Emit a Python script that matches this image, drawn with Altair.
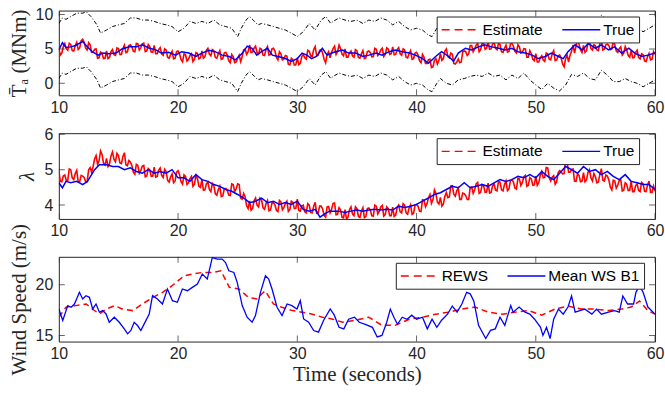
import altair as alt
import pandas as pd

# ---------------- data ----------------
x_ticks = [10, 20, 30, 40, 50, 60]

# sampling grids of the noisy estimates: full steps (10, 10.25, ...) and half steps (10.125, 10.375, ...)
grid_t = [10 + 0.25 * i for i in range(201)]
mid_t = [10.125 + 0.25 * i for i in range(200)]

# Panel 1: aerodynamic torque estimate (MNm), full steps
torque_est = [
    5.1, 4.4, 5.8, 4.8, 5.65, 4.7, 5.95, 5.15,
    6.4, 5.1, 5.9, 4.5, 4.95, 3.65, 4.55, 3.6,
    4.7, 3.75, 4.9, 4.05, 5.05, 4.2, 5.55, 4.55,
    5.6, 4.65, 5.8, 4.85, 5.75, 4.6, 5.65, 4.55,
    5.5, 4.3, 5.2, 4.1, 4.85, 3.65, 4.65, 3.65,
    4.7, 3.45, 4.3, 3.25, 4.05, 3.15, 4.45, 3.55,
    4.7, 3.85, 5.1, 4.0, 4.75, 3.65, 4.75, 3.6,
    4.5, 3.3, 4.2, 3.0, 3.65, 3.15, 4.85, 4.2,
    5.6, 4.55, 5.4, 4.25, 4.95, 4.05, 5.35, 4.2,
    5.1, 3.8, 4.6, 3.4, 4.05, 2.75, 3.65, 2.65,
    3.7, 2.9, 4.2, 3.5, 4.65, 3.9, 5.35, 4.1,
    4.9, 3.5, 4.2, 3.7, 5.05, 4.2, 5.55, 4.25,
    5.0, 3.8, 4.7, 3.8, 4.75, 3.65, 4.75, 3.7,
    4.7, 3.85, 5.1, 4.05, 4.85, 3.9, 5.15, 4.2,
    5.3, 4.2, 5.2, 4.1, 4.85, 3.7, 4.75, 3.6,
    4.5, 3.3, 4.2, 2.9, 3.45, 2.3, 3.35, 2.8,
    4.3, 3.6, 5.0, 3.7, 4.25, 2.8, 3.55, 3.1,
    4.7, 4.05, 5.5, 4.6, 5.55, 4.6, 5.85, 4.95,
    6.1, 5.0, 6.0, 4.9, 5.65, 4.5, 5.55, 4.65,
    5.8, 4.65, 5.6, 4.4, 5.05, 3.8, 4.75, 3.5,
    4.3, 3.1, 4.0, 3.2, 4.25, 3.4, 4.75, 3.4,
    4.1, 2.8, 3.6, 3.1, 4.65, 4.4, 6.35, 4.9,
    5.5, 4.75, 6.1, 4.85, 5.45, 4.75, 6.25, 4.95,
    5.7, 4.9, 6.2, 4.7, 5.05, 4.1, 5.35, 4.05,
    4.8, 3.75, 4.8, 3.55, 4.15, 3.15, 4.35, 3.5,
    4.2,
]
# half steps
torque_est_mid = [
    4.1, 5.35, 5.0, 5.8, 4.75, 5.45, 4.9, 6.2,
    5.95, 4.85, 5.6, 4.55, 5.0, 3.7, 4.35, 3.65,
    3.6, 4.6, 4.15, 5.15, 4.2, 5.05, 4.45, 5.5,
    5.3, 4.6, 5.75, 5.2, 5.85, 4.7, 5.35, 4.5,
    4.3, 4.9, 4.3, 5.0, 3.8, 4.2, 3.55, 4.6,
    4.3, 3.15, 4.15, 3.5, 4.3, 3.5, 4.35, 3.7,
    3.65, 4.8, 4.25, 4.9, 3.75, 4.3, 3.5, 4.4,
    4.1, 3.0, 3.9, 3.1, 4.1, 3.9, 5.0, 4.6,
    4.45, 5.1, 4.45, 5.1, 4.1, 4.9, 4.1, 5.0,
    4.7, 3.4, 4.3, 3.5, 3.95, 2.7, 3.45, 2.7,
    2.7, 3.9, 3.7, 4.8, 4.0, 4.9, 4.0, 4.8,
    4.4, 3.0, 4.6, 4.5, 5.4, 4.6, 5.05, 4.0,
    3.8, 4.4, 4.0, 4.9, 3.75, 4.3, 3.6, 4.6,
    4.45, 3.9, 4.95, 4.3, 5.1, 4.2, 5.0, 4.3,
    4.15, 4.9, 4.3, 5.0, 3.8, 4.3, 3.5, 4.4,
    4.1, 3.0, 3.8, 2.9, 3.5, 2.4, 3.6, 3.3,
    3.35, 4.7, 3.9, 4.4, 2.9, 3.1, 3.0, 4.6,
    4.6, 4.3, 5.5, 5.0, 5.8, 4.9, 5.75, 5.1,
    4.95, 5.7, 5.1, 5.8, 4.6, 5.1, 4.55, 5.7,
    5.4, 4.4, 5.3, 4.5, 5.0, 3.8, 4.3, 3.3,
    3.1, 3.7, 3.4, 4.4, 3.5, 4.3, 3.3, 4.0,
    3.7, 2.4, 4.1, 4.1, 5.6, 5.4, 5.7, 4.5,
    4.5, 5.8, 5.05, 5.6, 4.85, 5.8, 4.85, 5.6,
    5.5, 5.0, 5.6, 4.5, 5.3, 4.4, 4.85, 3.8,
    3.7, 4.5, 3.75, 4.3, 3.25, 3.9, 3.4, 4.6,
]

torque_true = [
    (10.0, 4.85), (10.3, 5.9), (10.6, 5.2), (11.0, 5.3), (11.4, 5.5), (12.0, 6.1),
    (12.4, 5.3), (12.8, 4.6), (13.3, 4.1), (13.7, 4.4), (14.2, 4.3), (14.8, 4.4),
    (15.3, 5.0), (15.9, 5.3), (16.5, 5.3), (17.0, 5.6), (17.6, 5.1), (18.1, 4.9),
    (18.6, 4.4), (19.2, 4.5), (19.8, 4.1), (20.3, 4.6), (20.9, 4.4), (21.5, 3.9),
    (22.0, 4.4), (22.6, 4.8), (23.1, 4.6), (23.7, 4.1), (24.3, 3.9), (24.8, 3.4),
    (25.4, 4.4), (25.8, 5.4), (26.2, 5.1), (26.6, 4.1), (27.0, 4.6), (27.5, 5.1),
    (27.9, 4.1), (28.4, 3.9), (29.0, 3.6), (29.5, 3.2), (30.0, 3.6), (30.4, 4.4),
    (30.8, 4.1), (31.2, 3.6), (31.6, 3.9), (32.1, 5.1), (32.5, 4.1), (32.9, 4.4),
    (33.2, 4.6), (33.8, 4.85), (34.3, 4.4), (34.9, 4.4), (35.5, 3.9), (36.0, 4.1),
    (36.6, 4.4), (37.1, 4.1), (37.7, 4.6), (38.2, 4.85), (38.8, 4.6), (39.4, 4.4),
    (39.9, 4.1), (40.5, 3.6), (41.0, 2.9), (41.6, 3.9), (42.1, 4.6), (42.7, 3.9),
    (43.1, 3.2), (43.5, 4.4), (44.1, 5.1), (44.6, 4.85), (45.2, 5.3), (45.7, 5.6),
    (46.3, 5.3), (46.9, 5.1), (47.4, 4.85), (48.0, 5.1), (48.5, 4.6), (49.1, 4.4),
    (49.7, 4.1), (50.2, 3.6), (50.8, 3.9), (51.3, 4.4), (51.9, 3.9), (52.3, 3.6),
    (52.7, 4.6), (53.3, 5.6), (53.9, 4.85), (54.4, 5.8), (55.0, 5.1), (55.5, 5.6),
    (56.1, 4.85), (56.6, 5.3), (57.2, 4.4), (57.8, 5.1), (58.3, 4.4), (58.9, 3.9),
    (59.4, 4.1), (60.0, 4.4),
]

bound_t = [
    10.0, 10.3, 10.6, 11.0, 11.5, 12.0, 12.3, 12.7, 13.2, 13.5,
    14.0, 14.5, 15.0, 15.5, 16.0, 16.5, 17.0, 17.5, 18.0, 18.5, 19.0, 19.5,
    20.0, 20.5, 21.0, 21.5, 22.0, 22.5, 23.0, 23.5, 24.0, 24.5, 25.0,
    25.3, 25.7, 26.0, 26.3, 26.7,
    27.0, 27.5, 28.0, 28.5, 29.0, 29.5, 30.0, 30.5, 31.0, 31.5, 32.0,
    32.4, 32.8,
    33.0, 33.5, 34.0, 34.5, 35.0, 35.5, 36.0, 36.5, 37.0, 37.5, 38.0, 38.5,
    39.0, 39.5, 40.0, 40.5, 41.0,
    41.3, 41.7,
    42.0, 42.5, 43.0, 43.5, 44.0, 44.5, 45.0, 45.5, 46.0, 46.5, 47.0, 47.5,
    48.0, 48.5, 49.0, 49.5, 50.0, 50.5, 51.0, 51.5, 52.0, 52.5, 53.0, 53.5,
    54.0, 54.5, 55.0, 55.5, 56.0, 56.5, 57.0, 57.5, 58.0, 58.5, 59.0, 59.5, 60.0,
]
bound_lo = [
    0.7, 1.5, 1.3, 1.7, 2.2, 2.2, 2.4, 1.7, 0.5, -0.7,
    -0.25, 0.25, 0.5, 0.7, 1.5, 1.5, 1.2, 1.2, 1.0, 0.7, 0.5, 0.25,
    -0.5, 0.0, 1.0, 0.7, 1.0, 0.7, 1.2, 0.5, 0.25, 0.0, -1.2,
    0.0, 1.2, 1.7, 1.2, 0.5,
    0.7, 0.5, 0.25, 0.0, -0.25, -0.7, -1.2, -0.5, 0.7, -0.25, 1.2,
    1.7, 0.7,
    1.0, 1.5, 1.2, 1.0, 1.2, 0.7, 1.2, 1.0, 1.5, 1.2, 0.5, 1.0,
    0.25, -0.25, 0.0, -0.25, -1.0,
    -1.2, 0.0,
    0.7, 0.0, -0.25, 0.5, 0.7, 1.0, 1.2, 1.0, 1.5, 1.0, 1.2, 0.5,
    1.2, 0.7, 1.5, 0.5, -0.25, -0.9, 0.0, -0.7, -1.1, -0.25, 1.3, 1.0,
    1.5, 0.7, 0.5, 1.9, 1.2, 0.25, 0.25, 0.7, 0.25, 0.0, -0.5, 0.0, 0.5,
]
bound_hi = [
    8.7, 9.5, 9.3, 9.7, 10.2, 10.2, 10.4, 9.7, 8.5, 7.3,
    7.75, 8.25, 8.5, 8.7, 9.5, 9.5, 9.2, 9.2, 9.0, 8.7, 8.5, 8.25,
    7.5, 8.0, 9.0, 8.7, 9.0, 8.7, 9.2, 8.5, 8.25, 8.0, 6.8,
    8.0, 9.2, 9.7, 9.2, 8.5,
    8.7, 8.5, 8.25, 8.0, 7.75, 7.3, 6.8, 7.5, 8.7, 7.75, 9.2,
    9.7, 8.7,
    9.0, 9.5, 9.2, 9.0, 9.2, 8.7, 9.2, 9.0, 9.5, 9.2, 8.5, 9.0,
    8.25, 7.75, 8.0, 7.75, 7.0,
    6.8, 8.0,
    8.7, 8.0, 7.75, 8.5, 8.7, 9.0, 9.2, 9.0, 9.5, 9.0, 9.2, 8.5,
    9.2, 8.7, 9.5, 8.5, 7.75, 7.1, 8.0, 7.3, 6.9, 7.75, 9.3, 9.0,
    9.5, 8.7, 8.5, 9.9, 9.2, 8.25, 8.25, 8.7, 8.25, 8.0, 7.5, 8.0, 8.5,
]

# Panel 2: tip speed ratio, full steps
lambda_est = [
    4.97, 4.66, 4.85, 4.70, 5.00, 4.72, 4.98, 4.66,
    4.82, 4.66, 5.00, 4.93, 5.30, 5.15, 5.53, 5.18,
    5.32, 5.16, 5.50, 5.22, 5.40, 5.17, 5.48, 5.11,
    5.22, 4.93, 5.15, 4.90, 5.10, 4.80, 5.03, 4.81,
    5.07, 4.81, 5.05, 4.78, 4.95, 4.65, 4.88, 4.68,
    4.97, 4.66, 4.85, 4.58, 4.75, 4.53, 4.83, 4.53,
    4.72, 4.43, 4.65, 4.38, 4.55, 4.28, 4.53, 4.26,
    4.47, 4.28, 4.60, 4.38, 4.60, 4.20, 4.33, 3.98,
    4.12, 3.91, 4.20, 3.95, 4.15, 3.88, 4.13, 3.86,
    4.07, 3.85, 4.13, 3.87, 4.05, 3.82, 4.11, 3.90,
    4.17, 3.83, 4.00, 3.78, 4.00, 3.78, 4.08, 3.78,
    3.97, 3.71, 3.95, 3.78, 4.05, 3.73, 3.93, 3.66,
    3.87, 3.66, 3.95, 3.70, 3.90, 3.65, 3.93, 3.68,
    3.92, 3.70, 4.00, 3.75, 3.95, 3.69, 3.95, 3.70,
    3.94, 3.72, 4.00, 3.78, 4.00, 3.74, 4.01, 3.77,
    4.02, 3.83, 4.15, 3.95, 4.20, 4.05, 4.43, 4.08,
    4.22, 4.03, 4.35, 4.23, 4.55, 4.25, 4.48, 4.16,
    4.32, 4.16, 4.50, 4.33, 4.60, 4.33, 4.58, 4.36,
    4.62, 4.36, 4.60, 4.40, 4.65, 4.40, 4.68, 4.46,
    4.72, 4.48, 4.75, 4.55, 4.80, 4.53, 4.78, 4.56,
    4.82, 4.63, 4.95, 4.78, 5.05, 4.68, 4.83, 4.66,
    4.97, 4.88, 5.30, 4.93, 5.00, 4.68, 4.88, 4.66,
    4.92, 4.71, 5.00, 4.68, 4.80, 4.65, 5.03, 4.68,
    4.82, 4.51, 4.70, 4.48, 4.70, 4.40, 4.63, 4.41,
    4.67, 4.38, 4.60, 4.38, 4.60, 4.38, 4.68, 4.36,
    4.40,
]
# half steps
lambda_est_mid = [
    4.67, 4.82, 4.70, 5.02, 4.77, 4.89, 4.66, 4.84,
    4.78, 4.66, 5.06, 5.09, 5.40, 5.25, 5.43, 5.13,
    5.09, 5.39, 5.29, 5.46, 5.19, 5.37, 5.14, 5.26,
    5.12, 4.87, 5.12, 4.97, 5.12, 4.82, 4.99, 4.82,
    4.79, 4.99, 4.84, 5.01, 4.70, 4.80, 4.63, 4.93,
    4.86, 4.59, 4.81, 4.63, 4.81, 4.59, 4.75, 4.50,
    4.42, 4.60, 4.44, 4.61, 4.32, 4.44, 4.24, 4.46,
    4.42, 4.27, 4.58, 4.46, 4.58, 4.17, 4.23, 3.90,
    3.86, 4.12, 4.00, 4.20, 3.92, 4.04, 3.84, 4.06,
    4.01, 3.82, 4.09, 3.93, 4.11, 3.87, 4.08, 3.91,
    3.85, 3.98, 3.81, 4.04, 3.79, 3.97, 3.77, 3.97,
    3.89, 3.66, 3.96, 3.88, 4.06, 3.74, 3.87, 3.64,
    3.61, 3.87, 3.75, 3.95, 3.68, 3.83, 3.65, 3.90,
    3.86, 3.69, 3.97, 3.82, 3.99, 3.73, 3.90, 3.70,
    3.68, 3.93, 3.81, 4.04, 3.78, 3.92, 3.74, 4.00,
    3.97, 3.82, 4.14, 4.04, 4.30, 4.15, 4.33, 4.03,
    3.97, 4.25, 4.21, 4.54, 4.31, 4.41, 4.16, 4.34,
    4.27, 4.16, 4.51, 4.43, 4.64, 4.36, 4.54, 4.37,
    4.34, 4.54, 4.42, 4.67, 4.43, 4.58, 4.41, 4.69,
    4.65, 4.45, 4.74, 4.64, 4.84, 4.56, 4.74, 4.57,
    4.56, 4.84, 4.77, 5.06, 4.77, 4.79, 4.59, 4.91,
    4.94, 4.89, 5.22, 4.93, 5.02, 4.67, 4.84, 4.67,
    4.66, 4.92, 4.77, 4.89, 4.63, 4.88, 4.70, 4.85,
    4.71, 4.43, 4.68, 4.56, 4.72, 4.42, 4.59, 4.42,
    4.38, 4.55, 4.41, 4.64, 4.39, 4.57, 4.36, 4.54,
]

lambda_true = [
    (10.0, 4.63), (10.3, 4.49), (10.6, 4.67), (11.0, 4.63), (11.5, 4.67), (12.0, 4.58),
    (12.4, 4.67), (13.0, 5.0), (13.4, 5.14), (14.0, 5.14), (14.5, 5.09), (15.0, 5.09),
    (15.5, 5.0), (16.0, 5.05), (16.5, 4.95), (17.0, 4.9), (17.5, 5.0), (18.0, 4.9),
    (18.5, 4.95), (19.0, 4.9), (19.5, 5.0), (20.0, 4.77), (20.5, 4.77), (21.0, 4.67),
    (21.5, 4.86), (22.0, 4.72), (22.5, 4.67), (23.0, 4.58), (23.5, 4.53), (24.0, 4.44),
    (24.5, 4.39), (25.0, 4.3), (25.5, 4.2), (26.0, 4.07), (26.5, 4.11), (27.0, 4.2),
    (27.5, 4.07), (28.0, 4.11), (28.5, 4.02), (29.0, 4.07), (29.5, 4.02), (30.0, 4.11),
    (30.5, 3.88), (31.0, 3.83), (31.5, 3.88), (31.9, 3.66), (32.3, 3.75), (32.7, 3.83),
    (33.0, 3.83), (33.5, 3.83), (34.0, 3.79), (34.5, 3.83), (35.0, 3.86), (35.5, 3.83),
    (36.0, 3.86), (36.5, 3.88), (37.0, 3.86), (37.5, 3.88), (38.0, 3.86), (38.5, 3.97),
    (39.0, 3.93), (39.5, 3.97), (40.0, 4.02), (40.5, 4.11), (41.0, 4.2), (41.5, 4.3),
    (42.0, 4.35), (42.5, 4.44), (43.0, 4.53), (43.5, 4.49), (44.0, 4.63), (44.5, 4.49),
    (45.0, 4.53), (45.5, 4.58), (46.0, 4.53), (46.5, 4.63), (47.0, 4.72), (47.5, 4.67),
    (48.0, 4.72), (48.5, 4.81), (49.0, 4.77), (49.5, 4.86), (50.0, 4.77), (50.5, 4.95),
    (51.0, 4.81), (51.5, 4.72), (52.0, 4.9), (52.5, 5.09), (53.0, 5.0), (53.5, 4.9),
    (54.0, 5.09), (54.5, 4.95), (55.0, 5.0), (55.5, 4.86), (56.0, 4.95), (56.5, 4.81),
    (57.0, 4.72), (57.5, 4.86), (58.0, 4.67), (58.5, 4.63), (59.0, 4.58), (59.5, 4.58),
    (60.0, 4.44),
]

# Panel 3: wind speed (m/s)
rews = [
    (10.0, 16.8), (10.6, 17.78), (11.4, 17.94), (12.3, 18.1), (12.8, 17.61), (13.4, 17.12),
    (14.0, 17.61), (14.7, 17.94), (15.3, 17.61), (16.2, 17.45), (17.0, 18.1), (17.9, 18.76),
    (18.7, 19.25), (19.5, 19.9), (20.5, 20.88), (21.2, 21.05), (22.0, 21.2), (22.9, 21.2),
    (23.6, 21.37), (24.3, 19.74), (25.1, 19.58), (25.9, 18.76), (26.6, 18.6), (27.3, 19.41),
    (28.0, 18.1), (28.7, 17.78), (29.6, 17.45), (30.4, 17.29), (31.2, 17.12), (32.1, 16.8),
    (32.9, 16.63), (33.8, 16.3), (34.9, 16.5), (36.0, 16.8), (37.1, 16.0), (38.2, 16.0),
    (39.4, 16.6), (40.5, 16.8), (41.6, 17.1), (42.7, 17.3), (43.8, 17.6), (44.9, 17.8),
    (46.0, 17.3), (47.2, 17.1), (48.3, 17.3), (49.4, 17.45), (50.5, 17.0), (51.6, 17.6),
    (52.7, 17.9), (53.8, 17.6), (54.9, 17.6), (56.1, 17.45), (57.2, 17.6), (58.0, 17.8),
    (58.7, 18.4), (59.4, 17.45), (60.0, 17.1),
]

mean_ws_b1 = [
    (10.0, 17.61), (10.33, 16.47), (10.75, 17.94), (11.03, 17.78), (11.31, 18.1), (11.73, 19.25),
    (12.0, 18.6), (12.28, 18.92), (12.56, 18.76), (12.84, 17.61), (13.12, 18.1), (13.4, 17.29),
    (13.68, 17.45), (13.96, 17.12), (14.23, 16.3), (14.65, 16.8), (15.07, 16.3), (15.49, 15.65),
    (15.77, 15.16), (16.04, 15.49), (16.32, 16.3), (16.6, 15.98), (16.88, 15.49), (17.16, 16.14),
    (17.58, 17.12), (17.86, 18.92), (18.27, 18.6), (18.69, 18.1), (19.11, 19.58), (19.53, 18.43),
    (19.94, 18.27), (20.36, 19.58), (20.78, 19.41), (21.2, 19.74), (21.62, 20.07), (22.03, 21.05),
    (22.45, 20.56), (22.87, 22.68), (23.29, 22.52), (23.7, 22.52), (23.98, 22.19), (24.26, 21.37),
    (24.68, 21.21), (24.96, 20.23), (25.38, 17.94), (25.79, 16.8), (26.21, 16.3), (26.49, 16.96),
    (26.91, 19.25), (27.33, 20.88), (27.6, 20.56), (27.88, 19.58), (28.3, 17.78), (28.72, 16.96),
    (29.14, 18.1), (29.55, 17.94), (29.97, 17.61), (30.25, 18.43), (30.53, 16.63), (30.95, 16.3),
    (31.37, 15.49), (31.78, 15.33), (32.2, 16.47), (32.76, 17.61), (33.1, 17.0), (33.5, 15.8),
    (33.9, 15.65), (34.3, 16.6), (34.8, 16.8), (35.2, 16.3), (35.7, 16.1), (36.3, 15.8),
    (36.7, 14.85), (37.1, 15.0), (37.5, 16.3), (37.8, 17.6), (38.1, 16.8), (38.4, 16.1),
    (38.8, 16.8), (39.2, 16.6), (39.6, 17.0), (40.0, 16.6), (40.5, 16.8), (40.9, 15.65),
    (41.3, 16.6), (41.7, 15.8), (42.1, 16.5), (42.6, 17.1), (43.0, 17.9), (43.4, 17.3),
    (43.8, 18.1), (44.2, 19.25), (44.5, 19.1), (44.8, 18.4), (45.2, 16.0), (45.8, 14.7),
    (46.2, 15.5), (46.6, 15.65), (47.0, 16.8), (47.4, 16.0), (47.9, 17.95), (48.1, 17.3),
    (48.6, 17.8), (49.1, 17.3), (49.5, 17.1), (49.9, 16.6), (50.4, 15.8), (50.6, 15.0),
    (50.9, 15.8), (51.2, 14.7), (51.5, 16.6), (51.9, 17.6), (52.3, 17.1), (52.7, 17.8),
    (53.0, 18.9), (53.3, 17.3), (53.7, 17.45), (54.1, 17.6), (54.7, 17.1), (55.1, 17.6),
    (55.5, 17.1), (56.1, 17.3), (56.6, 17.45), (57.0, 17.3), (57.3, 18.9), (57.7, 18.1),
    (58.2, 18.1), (58.4, 19.25), (58.7, 19.9), (59.0, 19.25), (59.4, 17.8), (60.0, 17.1),
]

# ---------------- styling ----------------
SANS = "Liberation Sans"
SERIF = "Liberation Serif"
AX = "#262626"
W = 598


def pairs_df(pairs):
    return pd.DataFrame({"t": [p[0] for p in pairs], "v": [p[1] for p in pairs]})


def noisy_df(full_vals, mid_vals):
    df = pd.DataFrame({"t": grid_t + mid_t, "v": list(full_vals) + list(mid_vals)})
    return df.sort_values("t").reset_index(drop=True)


def make_panel(lines, names, colors, dashes, ydom, yticks, ytitle, height,
               legend_xy, xtitle=False, ystyle="normal"):
    xs = alt.Scale(domain=[10, 60], nice=False, zero=False)
    ys = alt.Scale(domain=ydom, nice=False, zero=False)
    xaxis_kw = dict(values=x_ticks, format="d", ticks=False, domain=False, grid=False,
                    labelFlush=False,
                    labelFont=SANS, labelFontSize=16, labelColor=AX, labelPadding=4,
                    titleFont=SERIF, titleFontSize=21, titleFontWeight="normal",
                    titleColor=AX, titlePadding=2)
    xaxis = alt.Axis(title="Time (seconds)", **xaxis_kw) if xtitle else alt.Axis(title=None, **xaxis_kw)
    yaxis = alt.Axis(values=yticks, format="d", ticks=False, domain=False, grid=False,
                     labelFlush=False,
                     labelFont=SANS, labelFontSize=16, labelColor=AX, labelPadding=6,
                     title=ytitle, titleFont=SERIF, titleFontSize=21,
                     titleFontWeight="normal", titleFontStyle=ystyle,
                     titleColor=AX, titlePadding=6)
    ex = alt.X("t:Q", scale=xs, axis=xaxis)
    ey = alt.Y("v:Q", scale=ys, axis=yaxis)

    layers = []
    for df, mark in lines:
        layers.append(alt.Chart(df).mark_line(clip=True, **mark).encode(x=ex, y=ey))

    # inward box ticks (all four sides)
    dfx = pd.DataFrame({"t": x_ticks})
    dfy = pd.DataFrame({"v": yticks})
    for yd in (ydom[0], ydom[1]):
        layers.append(alt.Chart(dfx).mark_tick(orient="vertical", size=12, thickness=1,
                                               color=AX, clip=True)
                      .encode(x=ex, y=alt.YDatum(yd, scale=ys, axis=yaxis)))
    for xd in (10, 60):
        layers.append(alt.Chart(dfy).mark_tick(orient="horizontal", size=12, thickness=1,
                                               color=AX, clip=True)
                      .encode(x=alt.XDatum(xd, scale=xs, axis=xaxis), y=ey))

    # legend holder (no drawable rows)
    leg = alt.Legend(orient="none", legendX=legend_xy[0], legendY=legend_xy[1],
                     direction="horizontal", title=None,
                     padding=4, fillColor="white", strokeColor=AX,
                     symbolType="M-1,0H3.75", symbolSize=256, symbolStrokeWidth=1.5,
                     labelFont=SANS, labelFontSize=15.5, labelColor="black",
                     columnPadding=16, labelOffset=24)
    hold = pd.DataFrame({"t": [None] * len(names), "v": [None] * len(names), "s": names})
    layers.append(alt.Chart(hold).mark_line().encode(
        x=ex, y=ey,
        color=alt.Color("s:N", scale=alt.Scale(domain=names, range=colors), legend=leg),
        strokeDash=alt.StrokeDash("s:N", scale=alt.Scale(domain=names, range=dashes), legend=leg),
    ))
    return alt.layer(*layers).properties(width=W, height=height)


p1 = make_panel(
    [
        (pd.DataFrame({"t": bound_t, "v": bound_hi}), dict(color="black", strokeWidth=1, strokeDash=[4, 2, 1, 2])),
        (pd.DataFrame({"t": bound_t, "v": bound_lo}), dict(color="black", strokeWidth=1, strokeDash=[4, 2, 1, 2])),
        (noisy_df(torque_est, torque_est_mid), dict(color="#ff0000", strokeWidth=1.6)),
        (pairs_df(torque_true), dict(color="#0000ff", strokeWidth=1.5)),
    ],
    ["Estimate", "True"], ["#ff0000", "#0000ff"], [[8, 5], [1, 0]],
    [-1.74, 10.58], [0, 5, 10], "T\u0304\u2090 (MNm)", 85, (379, 6),
)

p2 = make_panel(
    [
        (noisy_df(lambda_est, lambda_est_mid), dict(color="#ff0000", strokeWidth=1.6)),
        (pairs_df(lambda_true), dict(color="#0000ff", strokeWidth=1.5)),
    ],
    ["Estimate", "True"], ["#ff0000", "#0000ff"], [[8, 5], [1, 0]],
    [3.61, 6.03], [4, 5, 6], "\u03bb", 86, (379, 5), ystyle="italic",
)

p3 = make_panel(
    [
        (pairs_df(rews), dict(color="#ff0000", strokeWidth=1.5, strokeDash=[6, 4])),
        (pairs_df(mean_ws_b1), dict(color="#0000ff", strokeWidth=1.3)),
    ],
    ["REWS", "Mean WS B1"], ["#ff0000", "#0000ff"], [[8, 5], [1, 0]],
    [14.4, 22.75], [15, 20], "Wind Speed (m/s)", 85, (338, 6), xtitle=True,
)

chart = (
    alt.vconcat(p1, p2, p3, spacing=38, bounds="flush")
    .resolve_scale(color="independent", strokeDash="independent", x="independent", y="independent")
    .resolve_legend(color="independent", strokeDash="independent")
    .properties(padding={"left": 7, "top": 5, "right": 0, "bottom": 1}, background="white")
    .configure_view(stroke=AX, strokeWidth=1)
)

chart.save("out.html", embed_options={"renderer": "svg", "actions": False})
